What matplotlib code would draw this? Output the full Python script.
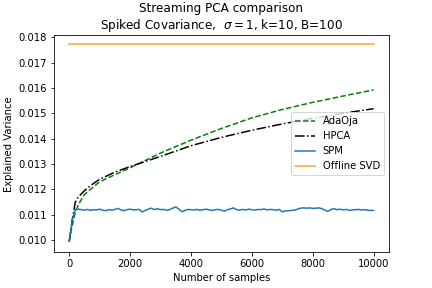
import numpy as np
import matplotlib
matplotlib.use("Agg")
import matplotlib.pyplot as plt

# AdaOja / HPCA
x_curve = [0, 100, 200, 300, 500, 700, 1000, 1500, 2000, 2500, 3000, 4000,
           5000, 6000, 7000, 8000, 9000, 10000]
adaoja = [0.00995, 0.0106, 0.0111, 0.0114, 0.0118, 0.0120, 0.0123, 0.01258,
          0.01285, 0.01314, 0.01343, 0.01394, 0.01440, 0.01482, 0.01515,
          0.01543, 0.01568, 0.01592]
hpca = [0.00995, 0.0108, 0.0115, 0.0117, 0.01195, 0.01215, 0.0124, 0.01268,
        0.0129, 0.0131, 0.0133, 0.01372, 0.01405, 0.01433, 0.01458,
        0.01480, 0.01500, 0.01518]

# SPM every 100 samples
x_spm = list(range(0, 10001, 100))
spm = [0.00995, 0.01080, 0.01120, 0.01122, 0.01120, 0.01118, 0.01121, 0.01117,
       0.01120, 0.01119, 0.01122, 0.01118, 0.01116, 0.01120, 0.01118, 0.01121,
       0.01125, 0.01119, 0.01116, 0.01120, 0.01122, 0.01119, 0.01120, 0.01121,
       0.01111, 0.01117, 0.01122, 0.01126, 0.01120, 0.01124, 0.01120, 0.01121,
       0.01118, 0.01120, 0.01126, 0.01131, 0.01122, 0.01112, 0.01117, 0.01121,
       0.01120, 0.01119, 0.01121, 0.01118, 0.01120, 0.01122, 0.01119, 0.01117,
       0.01120, 0.01121, 0.01118, 0.01114, 0.01120, 0.01123, 0.01127, 0.01120,
       0.01118, 0.01121, 0.01119, 0.01122, 0.01120, 0.01118, 0.01121, 0.01120,
       0.01123, 0.01119, 0.01121, 0.01120, 0.01118, 0.01121, 0.01111, 0.01115,
       0.01116, 0.01117, 0.01118, 0.01122, 0.01126, 0.01127, 0.01126, 0.01127,
       0.01125, 0.01126, 0.01127, 0.01124, 0.01118, 0.01113, 0.01121, 0.01124,
       0.01120, 0.01122, 0.01119, 0.01121, 0.01117, 0.01119, 0.01120, 0.01121,
       0.01119, 0.01120, 0.01118, 0.01117, 0.01117]

offline_svd = 0.01772

fig, ax = plt.subplots(figsize=(6, 4), dpi=72)
fig.subplots_adjust(left=0.125, right=0.9, bottom=0.124, top=0.878)
ax.plot(x_curve, adaoja, 'g--', label='AdaOja')
ax.plot(x_curve, hpca, 'k-.', label='HPCA')
ax.plot(x_spm, spm, color='tab:blue', label='SPM')
ax.plot([0, 10000], [offline_svd, offline_svd], color='#ffa530', label='Offline SVD')

ax.set_ylim(0.00952, 0.01808)
ax.set_xlabel('Number of samples')
ax.set_ylabel('Explained Variance')
ax.set_title('Streaming PCA comparison\nSpiked Covariance,  $\\sigma = 1$, k=10, B=100')
ax.legend(loc='center right')
plt.savefig('out.png', dpi=72)
